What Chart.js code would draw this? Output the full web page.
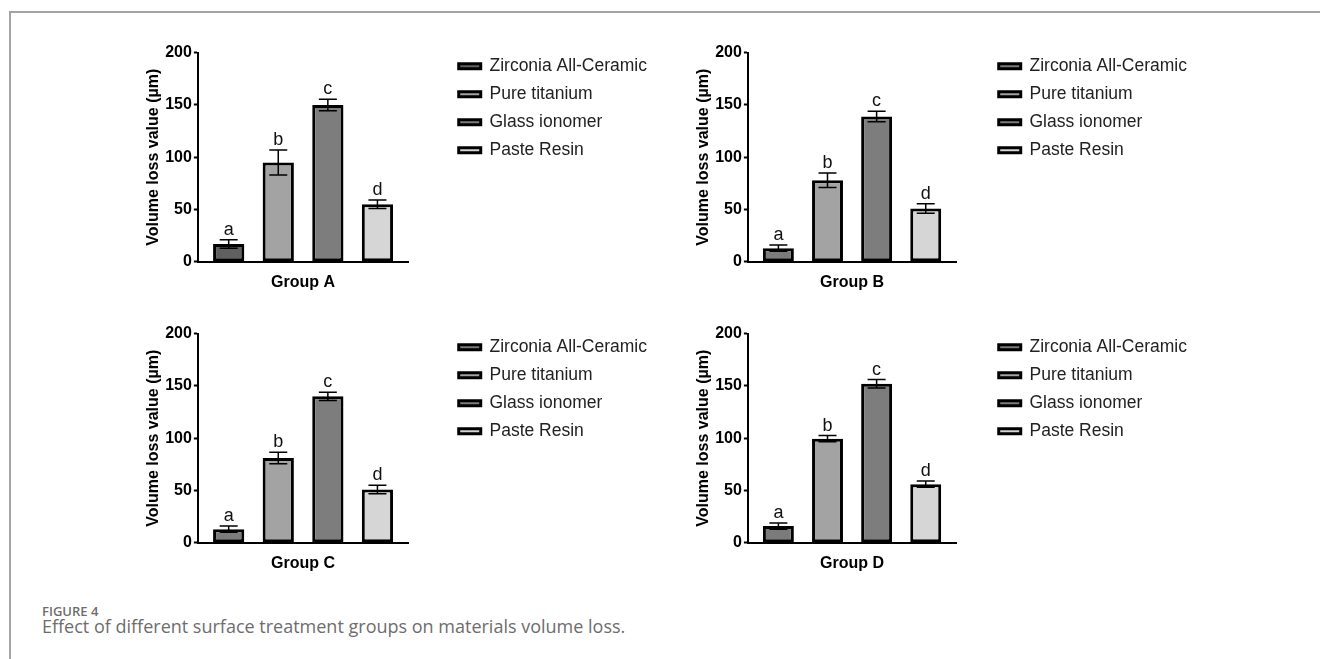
<!DOCTYPE html>
<html>
<head>
<meta charset="utf-8">
<script src="https://cdn.jsdelivr.net/npm/chart.js@4"></script>
<style>
  body { margin: 0; background: #fff; width: 1320px; height: 659px; overflow: hidden; position: relative; }
  .frame { position: absolute; left: 9px; top: 11px; width: 1320px; height: 660px; border-top: 2px solid #a3a3a3; border-left: 2px solid #a3a3a3; }
  .panel { position: absolute; }
  .fig { position: absolute; left: 42px; top: 602px; font: 600 13px "Open Sans", sans-serif; color: #6d6d6d; }
  .caption { position: absolute; left: 42px; top: 614px; font: 400 18px "Open Sans", sans-serif; color: #6d6d6d; }
</style>
</head>
<body>
<div class="frame"></div>
<canvas id="cA" class="panel" style="left:138px;top:41px" width="519" height="263"></canvas>
<canvas id="cB" class="panel" style="left:688px;top:41px" width="509" height="263"></canvas>
<canvas id="cC" class="panel" style="left:138px;top:322px" width="519" height="263"></canvas>
<canvas id="cD" class="panel" style="left:688px;top:322px" width="509" height="263"></canvas>
<div class="fig">FIGURE 4</div>
<div class="caption">Effect of different surface treatment groups on materials volume loss.</div>
<script>
const materials = ['Zirconia All-Ceramic', 'Pure titanium', 'Glass ionomer', 'Paste Resin'];
const groups = ['Group A', 'Group B', 'Group C', 'Group D'];
const sigLetters = ['a', 'b', 'c', 'd'];
const yTicks = [0, 50, 100, 150, 200];

const groupAMean = [17, 95, 150, 55];
const groupAErr = [4, 12, 5.5, 4];
const groupBMean = [13, 78, 139, 51];
const groupBErr = [3, 7, 5, 4.5];
const groupCMean = [13, 81, 140, 51];
const groupCErr = [3, 5.5, 4, 4];
const groupDMean = [16, 99.5, 152, 56];
const groupDErr = [3, 3, 4, 3];

const FONT = '"Liberation Sans", Arial, sans-serif';

// error bars and significance letters on top of each bar
const errorBars = {
  id: 'errorBars',
  afterDatasetsDraw(chart) {
    const ctx = chart.ctx;
    const y = chart.scales.y;
    ctx.save();
    chart.data.datasets.forEach((ds, i) => {
      const bar = chart.getDatasetMeta(i).data[0];
      const v = ds.data[0];
      const top = y.getPixelForValue(v + ds.err);
      const bot = y.getPixelForValue(v - ds.err);
      ctx.strokeStyle = '#000';
      ctx.lineWidth = 1.5;
      ctx.beginPath();
      ctx.moveTo(bar.x, top); ctx.lineTo(bar.x, bot);
      ctx.moveTo(bar.x - 9, top); ctx.lineTo(bar.x + 9, top);
      ctx.moveTo(bar.x - 9, bot); ctx.lineTo(bar.x + 9, bot);
      ctx.stroke();
      ctx.fillStyle = '#111';
      ctx.font = '18px ' + FONT;
      ctx.textAlign = 'center';
      ctx.textBaseline = 'alphabetic';
      ctx.fillText(ds.letter, bar.x, top - 5);
    });
    ctx.restore();
  }
};

function makePanel(id, group, mean, err, firstColor, gap) {
  const colors = [firstColor, '#a3a3a3', '#7d7d7d', '#d6d6d6'];
  new Chart(document.getElementById(id), {
    type: 'bar',
    data: {
      labels: [group],
      datasets: materials.map((m, i) => ({
        label: m,
        data: [mean[i]],
        err: err[i],
        letter: sigLetters[i],
        backgroundColor: colors[i],
        borderColor: '#000',
        borderWidth: 3,
        borderSkipped: false,
        barPercentage: 0.63,
        categoryPercentage: 0.943
      }))
    },
    options: {
      responsive: false,
      animation: false,
      layout: { padding: { left: 0, right: 0, top: 0, bottom: 1 } },
      plugins: {
        tooltip: { enabled: false },
        legend: {
          position: 'right',
          align: 'start',
          maxWidth: 300,
          title: { display: true, text: '', padding: 0, font: { size: 5 } },
          labels: {
            boxWidth: 22,
            boxHeight: 5,
            padding: 10.5,
            color: '#222',
            font: { family: FONT, size: 17.5 }
          }
        }
      },
      scales: {
        x: {
          grid: { display: false, drawTicks: false },
          border: { color: '#000', width: 2 },
          ticks: { color: '#000', padding: 11, font: { family: FONT, size: 16, weight: 'bold' } }
        },
        y: {
          min: yTicks[0],
          max: yTicks[yTicks.length - 1],
          ticks: { stepSize: yTicks[1] - yTicks[0], color: '#000', padding: 2, font: { family: FONT, size: 16, weight: 'bold' } },
          grid: { drawOnChartArea: false, drawTicks: true, tickLength: 4, tickWidth: 2, tickColor: '#000' },
          border: { color: '#000', width: 2 },
          title: {
            display: true,
            text: 'Volume loss value (µm)',
            color: '#000',
            padding: { top: 6, bottom: 0 },
            font: { family: FONT, size: 16, weight: 'bold' }
          }
        },
        gapAxis: {
          type: 'linear',
          position: 'right',
          display: true,
          ticks: { display: false },
          grid: { display: false, drawTicks: false },
          border: { display: false },
          afterFit: s => { s.width = gap; }
        }
      }
    },
    plugins: [errorBars]
  });
}

makePanel('cA', groups[0], groupAMean, groupAErr, '#606060', 40);
makePanel('cB', groups[1], groupBMean, groupBErr, '#7b7b7b', 32);
makePanel('cC', groups[2], groupCMean, groupCErr, '#7b7b7b', 40);
makePanel('cD', groups[3], groupDMean, groupDErr, '#7b7b7b', 32);
</script>
</body>
</html>
